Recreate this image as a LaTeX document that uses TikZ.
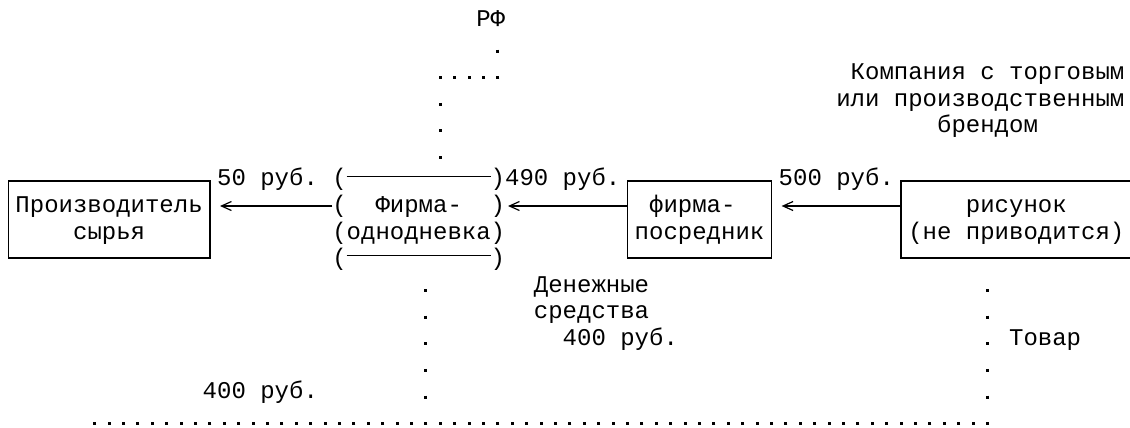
\documentclass[tikz,border=0pt]{standalone}
\usepackage{fontspec}
\setmainfont{Liberation Mono}
\usetikzlibrary{arrows.meta}
\begin{document}
\begin{tikzpicture}[x=14.4pt,y=-26.6pt,
  txt/.style={anchor=base west,inner sep=0pt,outer sep=0pt,font=\fontsize{24}{26.6}\selectfont},
  box/.style={draw,line width=1.3pt,inner sep=0pt,outer sep=0pt},
  frame/.style={inner sep=0pt,outer sep=0pt},
  conn/.style={line width=1.2pt,-{Straight Barb[length=10pt,width=9pt,line width=1.2pt]}},
  rule/.style={line width=1.3pt},
  dotsh/.style={line width=3pt,dash pattern=on 3pt off 11.4pt,shorten <=-1.5pt,shorten >=-1.5pt},
  dotsv/.style={line width=3pt,dash pattern=on 3pt off 23.6pt,shorten <=-1.5pt,shorten >=-1.5pt}]
\useasboundingbox (0pt,0pt) rectangle (1130pt,-428pt);
\clip (0pt,0pt) rectangle (1130pt,-428pt);
\begin{scope}[shift={(1.1pt,-26.3pt)}]
% boxes
\node[box,minimum width=201.6pt,minimum height=77pt] (b1) at (7.5,7.2635) {};
\node[box,minimum width=144pt,minimum height=77pt] (b3) at (48.5,7.2635) {};
\node[box,minimum width=230.4pt,minimum height=77pt] (b4) at (70.5,7.2635) {};
\node[frame,minimum width=172.8pt,minimum height=79.2pt] (firm) at (29,7.128) {};
% box texts
\node[txt] (p1) at (1,7) {Производитель};
\node[txt] (p2) at (5,8) {сырья};
\node[txt] (fa) at (23,6) {(};
\node[txt] (fb) at (34,6) {)};
\node[txt] (fc) at (23,7) {(};
\node[txt] (f1) at (26,7) {Фирма-};
\node[txt] (fd) at (34,7) {)};
\node[txt] (f2) at (23,8) {(однодневка)};
\node[txt] (fe) at (23,9) {(};
\node[txt] (ff) at (34,9) {)};
\draw[rule] ([xshift=14.4pt]firm.north west) -- ([xshift=-14.4pt]firm.north east);
\draw[rule] ([xshift=14.4pt]firm.south west) -- ([xshift=-14.4pt]firm.south east);
\node[txt] (m1) at (45,7) {фирма-};
\node[txt] (m2) at (44,8) {посредник};
\node[txt] (r1) at (67,7) {рисунок};
\node[txt] (r2) at (63,8) {(не приводится)};
% labels
\node[txt] (rf) at (33,0) {РФ};
\node[txt] (k1) at (59,2) {Компания с торговым};
\node[txt] (k2) at (58,3) {или производственным};
\node[txt] (k3) at (65,4) {брендом};
\node[txt] (s1) at (15,6) {50 руб.};
\node[txt] (s2) at (35,6) {490 руб.};
\node[txt] (s3) at (54,6) {500 руб.};
\node[txt] (d1) at (37,10) {Денежные};
\node[txt] (d2) at (37,11) {средства};
\node[txt] (d3) at (39,12) {400 руб.};
\node[txt] (tv) at (70,12) {Товар};
\node[txt] (s4) at (14,14) {400 руб.};
% arrows
\coordinate (ay) at (0,6.756);
\draw[conn,shorten >=10.1pt] (firm.west |- ay) -- (b1.east |- ay);
\draw[conn,shorten >=2.9pt] (b3.west |- ay) -- (firm.east |- ay);
\draw[conn,shorten >=10.1pt] (b4.west |- ay) -- (b3.east |- ay);
% dotted connectors
\coordinate (q1) at (34.5,0.936);
\coordinate (q2) at (34.5,1.936);
\coordinate (q3) at (30.5,1.936);
\coordinate (q4) at (30.5,4.936);
\draw[dotsv] (q1) -- (q2);
\draw[dotsh] (q2) -- (q3);
\draw[dotsv] (q3) -- (q4);
\coordinate (w1) at (29.5,9.936);
\coordinate (w2) at (29.5,13.936);
\coordinate (v1) at (68.5,9.936);
\coordinate (v2) at (68.5,14.936);
\coordinate (v3) at (6.5,14.936);
\draw[dotsv] (w1) -- (w2);
\draw[dotsv] (v1) -- (v2);
\draw[dotsh] (v2) -- (v3);
\end{scope}
\end{tikzpicture}
\end{document}
